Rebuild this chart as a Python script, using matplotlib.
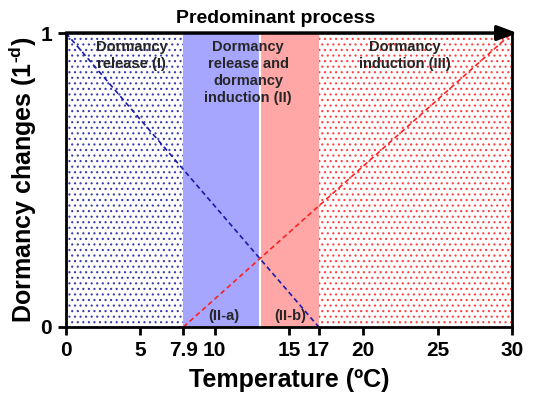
import matplotlib
matplotlib.use("Agg")
import matplotlib.pyplot as plt
import numpy as np

plt.rcParams['font.family'] = ['Liberation Sans', 'DejaVu Sans']
plt.rcParams['hatch.linewidth'] = 0.8
plt.rcParams['mathtext.fontset'] = 'custom'
plt.rcParams['mathtext.rm'] = 'Liberation Sans:bold'
plt.rcParams['mathtext.bf'] = 'Liberation Sans:bold'
plt.rcParams['mathtext.it'] = 'Liberation Sans:bold'

# data
release_x = [0, 17]
release_y = [1, 0]
induction_x = [7.9, 30]
induction_y = [0, 1]
cross_x = 13.04
xticks = [0, 5, 7.9, 10, 15, 17, 20, 25, 30]
xticklabels = ['0', '5', '7.9', '10', '15', '17', '20', '25', '30']

fig = plt.figure(figsize=(5.33, 4.03), dpi=100)
ax = fig.add_axes([0.1238, 0.1886, 0.9606 - 0.1238, 0.918 - 0.1886])

# zones
ax.axvspan(0, 7.9, facecolor='white', edgecolor='#3a3ab0', hatch='...', linewidth=0)
ax.axvspan(7.9, cross_x, facecolor='#a6a6ff', edgecolor='none', linewidth=0)
ax.axvspan(cross_x, 17, facecolor='#ffa6a6', edgecolor='none', linewidth=0)
ax.axvline(cross_x, color='white', lw=1.5)
ax.axvspan(17, 30, facecolor='white', edgecolor='#ff4040', hatch='...', linewidth=0)

ax.plot(release_x, release_y, color='#1a1aaa', ls=(0, (3, 2)), lw=1.2)
ax.plot(induction_x, induction_y, color='#ff2020', ls=(0, (3, 2)), lw=1.2)

ax.set_xlim(0, 30)
ax.set_ylim(0, 1)
ax.set_xticks(xticks)
ax.set_xticklabels(xticklabels, fontsize=15, fontweight='bold')
ax.set_yticks([0, 1])
ax.set_yticklabels(['0', '1'], fontsize=15, fontweight='bold')
ax.tick_params(axis='both', width=2, length=6, direction='out', pad=4)
for s in ['left', 'bottom', 'right']:
    ax.spines[s].set_linewidth(2)
ax.spines['top'].set_visible(False)

ax.annotate('', xy=(1.012, 1.0), xytext=(0, 1.0), xycoords='axes fraction',
            arrowprops=dict(arrowstyle='-|>,head_length=1.2,head_width=0.45',
                            color='black', lw=2.5, shrinkA=0, shrinkB=0),
            annotation_clip=False)
ax.text(0.469, 1.02, 'Predominant process', transform=ax.transAxes, ha='center',
        va='bottom', fontsize=14, fontweight='bold')

ax.set_xlabel('Temperature (ºC)', fontsize=18, fontweight='bold', labelpad=6)
ax.set_ylabel('Dormancy changes (1$^{\\text{-d}}$)', fontsize=18, fontweight='bold')
ax.yaxis.set_label_coords(-0.06, 0.5)

tc = '#262626'
ax.text(4.4, 0.975, 'Dormancy\nrelease (I)', ha='center', va='top', fontsize=10.5,
        fontweight='bold', color=tc, linespacing=1.25)
ax.text(12.25, 0.975, 'Dormancy\nrelease and\ndormancy\ninduction (II)', ha='center',
        va='top', fontsize=10.5, fontweight='bold', color=tc, linespacing=1.25)
ax.text(22.8, 0.975, 'Dormancy\ninduction (III)', ha='center', va='top', fontsize=10.5,
        fontweight='bold', color=tc, linespacing=1.25)
ax.text(10.6, 0.015, '(II-a)', ha='center', va='bottom', fontsize=10.5,
        fontweight='bold', color=tc)
ax.text(15.1, 0.015, '(II-b)', ha='center', va='bottom', fontsize=10.5,
        fontweight='bold', color=tc)

fig.savefig('out.png', dpi=100)
